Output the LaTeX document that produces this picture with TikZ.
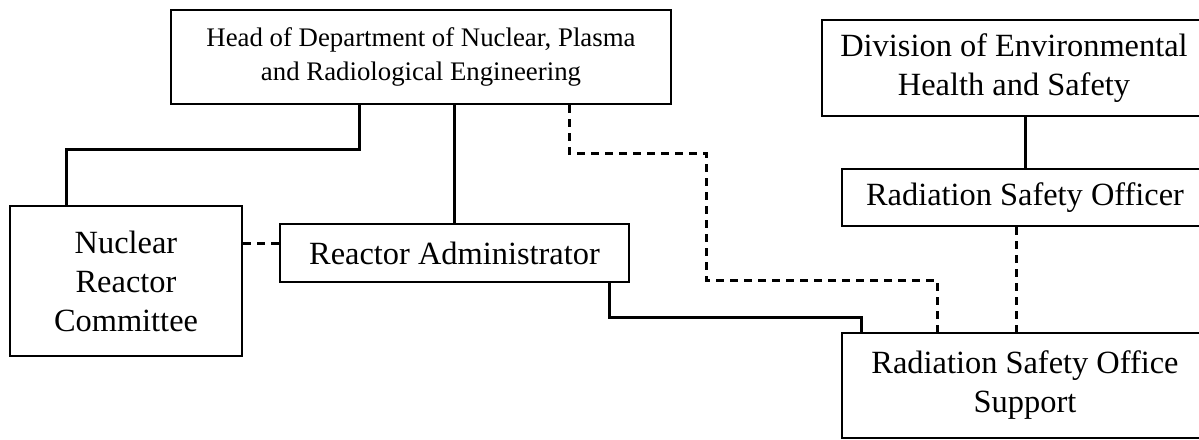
\documentclass[tikz,border=0pt]{standalone}
\usepackage{fontspec}
\setmainfont{Liberation Serif}
\usetikzlibrary{positioning}
\usetikzlibrary{calc}
\tikzset{
  unit/.style={draw, line width=1.4pt, align=center, inner sep=0pt},
  bigtxt/.style={font=\fontsize{16.2}{19.5}\selectfont},
  smalltxt/.style={font=\fontsize{13.4}{16.8}\selectfont},
  link/.style={line width=1.5pt},
  dotlink/.style={line width=1.5pt, dash pattern=on 4pt off 3pt}
}

\begin{document}
\begin{tikzpicture}[x=0.5pt, y=-0.5pt]

\useasboundingbox (0,0) rectangle (1199,439);

% department side
\node[unit, smalltxt, minimum width=250pt, minimum height=47pt] (head) at (421,57)
  {Head of Department of Nuclear, Plasma\\and Radiological Engineering};
\node[unit, bigtxt, minimum width=116pt, minimum height=75pt] (nrc) at (126,281)
  {Nuclear\\Reactor\\Committee};
\node[unit, bigtxt, minimum width=174.5pt, minimum height=29pt] (ra) at (454.5,253)
  {Reactor Administrator};

% safety side
\node[unit, bigtxt, minimum width=192pt, minimum height=48pt] (ehs) at (1014,68)
  {Division of Environmental\\Health and Safety};
\node[unit, bigtxt, minimum width=183pt, minimum height=28.5pt] (rso) at (1025,197.5)
  {Radiation Safety Officer};
\node[unit, bigtxt, minimum width=183pt, minimum height=52.5pt] (rsos) at (1025,385.5)
  {Radiation Safety Office\\Support};

% bends
\coordinate (hnrc) at (359,149);
\coordinate (hdash) at (569,153);
\coordinate (mdash) at (706,280);
\coordinate (rdash) at (937,280);
\coordinate (rabend) at (609,317);
\coordinate (rsosin) at (861,317);

%%% solid lines
\draw[link] (hnrc |- head.south) -- (hnrc) -| ($ (nrc.north west) + (58,0) $);
\draw[link] (ra.north |- head.south) -- (ra.north);
\draw[link] (rabend |- ra.south) -- (rabend) -- (rsosin) -- (rsosin |- rsos.north);
\draw[link] (ehs.south -| rso.north) -- (rso.north);

%%% dashed lines
\draw[dotlink] (nrc.east |- 0,243) -- (ra.west |- 0,243);
\draw[dotlink] (hdash |- head.south) -- (hdash) -| (mdash) -- (rdash) -- (rdash |- rsos.north);
\draw[dotlink] ($ (rso.south) + (-9,0) $) -- ($ (rsos.north) + (-9,0) $);

\end{tikzpicture}
\end{document}
